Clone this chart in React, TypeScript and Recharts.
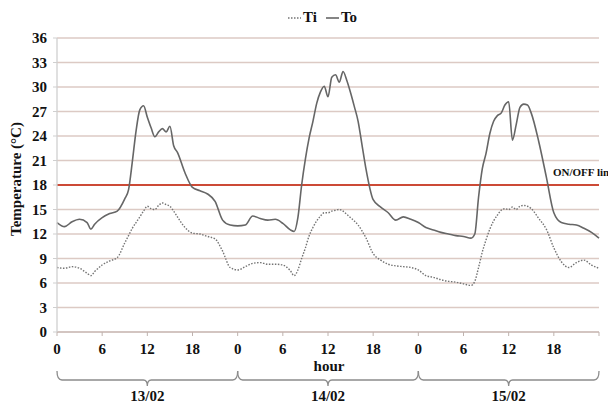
import React from 'react';
import { LineChart, Line, XAxis, YAxis, CartesianGrid, ReferenceLine, Legend } from 'recharts';

// hour since 13/02 00:00
const hours = [
  0, 1, 2, 3, 4, 4.5, 5, 6, 7, 8,
  9, 9.5, 10, 10.5, 11, 11.5, 12, 12.5, 13, 13.5, 14, 14.5, 15, 15.5, 16,
  17, 18, 19, 20, 21, 22, 23, 24, 25, 26, 27, 28, 29, 30, 31, 31.5,
  32, 32.5, 33, 33.5, 34, 34.5, 35, 35.5, 36, 36.5, 37, 37.5, 38, 38.5, 39, 39.5, 40, 40.5, 41,
  42, 43, 44, 45, 46, 47, 48, 49, 50, 51, 52, 53, 54, 55,
  55.5, 56, 56.5, 57, 57.5, 58, 58.5, 59, 59.5, 60, 60.5, 61, 61.5, 62, 62.5, 63,
  64, 65, 66, 67, 68, 69, 70, 71, 72,
];

const toValues = [
  13.4, 12.9, 13.5, 13.8, 13.4, 12.6, 13.2, 14.0, 14.5, 14.8,
  16.3, 17.4, 20.8, 24.6, 27.2, 27.7, 26.3, 25.0, 23.9, 24.5, 24.9, 24.5, 25.2, 22.8, 22.0,
  19.5, 17.7, 17.3, 16.9, 16.0, 13.7, 13.1, 13.0, 13.1, 14.2, 13.9, 13.7, 13.8, 13.3, 12.5, 12.3,
  14.0, 18.0, 21.2, 23.8, 25.8, 28.0, 29.4, 30.1, 28.8, 31.2, 31.5, 30.6, 31.9, 30.8, 29.3, 27.6, 25.8, 23.0, 20.2,
  16.2, 15.3, 14.6, 13.7, 14.1, 13.8, 13.4, 12.8, 12.5, 12.2, 12.0, 11.8, 11.7, 11.5,
  12.0, 16.5, 20.0, 21.9, 24.3, 25.8, 26.5, 26.8, 27.8, 28.2, 23.5, 25.4, 27.5, 27.9, 27.8, 26.8,
  23.3, 19.0, 14.6, 13.4, 13.2, 13.1, 12.7, 12.2, 11.5,
];

const tiValues = [
  7.9, 7.8, 8.0, 7.8, 7.2, 6.9, 7.4, 8.2, 8.7, 9.1,
  10.9, 11.8, 12.7, 13.4, 14.1, 14.8, 15.4, 15.1, 15.0, 15.5, 15.8, 15.6, 15.4, 14.8, 14.1,
  12.8, 12.1, 12.0, 11.7, 11.4, 9.9, 7.9, 7.6, 8.0, 8.4, 8.5, 8.3, 8.3, 8.2, 7.5, 6.9,
  7.6, 9.0, 10.3, 11.8, 12.8, 13.6, 14.2, 14.6, 14.6, 14.8, 14.9, 15.0, 14.8, 14.4, 14.0, 13.6, 13.1, 12.4, 11.6,
  9.6, 8.8, 8.3, 8.1, 8.0, 7.9, 7.6, 6.9, 6.7, 6.4, 6.2, 6.1, 5.9, 5.7,
  6.2, 7.9, 9.8, 11.3, 12.6, 13.6, 14.3, 14.9, 15.1, 15.0, 15.3, 15.0, 15.4, 15.5, 15.4, 15.1,
  13.9, 12.6, 10.3, 8.6, 7.9, 8.5, 8.8, 8.2, 7.8,
];

const yTicks = [0, 3, 6, 9, 12, 15, 18, 21, 24, 27, 30, 33, 36];
const hourTicks = [0, 6, 12, 18, 24, 30, 36, 42, 48, 54, 60, 66, 72];
const dayCenters = [12, 36, 60];
const dayLabels = ['13/02', '14/02', '15/02'];
const onOffValue = 18;
const onOffText = 'ON/OFF line';
const xTitle = 'hour';
const yTitle = 'Temperature (°C)';
const seriesNames = ['Ti', 'To'];

const data = hours.map((h, i) => ({ hour: h, Ti: tiValues[i], To: toValues[i] }));

const FONT = '"Liberation Serif", "Times New Roman", serif';
const TO_COLOR = '#666666';
const TI_COLOR = '#747474';

const DateTick = (props: any) => {
  const { x, y, index, width } = props;
  const axisW = typeof width === 'number' && width > 100 ? width : 542;
  const half = axisW / 6;
  const top = y + 9;
  const yl = y + 18;
  const d = `M ${x - half} ${top} Q ${x - half} ${yl} ${x - half + 5} ${yl} L ${x - 4} ${yl} Q ${x} ${yl} ${x} ${yl + 6} Q ${x} ${yl} ${x + 4} ${yl} L ${x + half - 5} ${yl} Q ${x + half} ${yl} ${x + half} ${top}`;
  return (
    <g>
      <path d={d} fill="none" stroke="#8c8c8c" strokeWidth={1.3} />
      <text x={x} y={yl + 21} textAnchor="middle" fontFamily={FONT} fontWeight="bold" fontSize={15} fill="#111">
        {dayLabels[index]}
      </text>
    </g>
  );
};

const HourLabel = (props: any) => {
  const vb = props.viewBox || { x: 49, y: 324, width: 542 };
  return (
    <text x={vb.x + vb.width / 2 + 1} y={vb.y + 39} textAnchor="middle" fontFamily={FONT} fontWeight="bold" fontSize={15} fill="#111">
      {xTitle}
    </text>
  );
};

const YTitle = (props: any) => {
  const vb = props.viewBox || { x: 9, y: 30, width: 40, height: 294 };
  const cx = vb.x - 1;
  const cy = vb.y + vb.height / 2 - 6;
  return (
    <text x={cx} y={cy} transform={`rotate(-90 ${cx} ${cy})`} textAnchor="middle" dominantBaseline="central" fontFamily={FONT} fontWeight="bold" fontSize={15} fill="#111">
      {yTitle}
    </text>
  );
};

const OnOffLabel = (props: any) => {
  const vb = props.viewBox || { x: 49, y: 177, width: 542 };
  return (
    <text x={vb.x + vb.width - 46} y={vb.y - 9} fontFamily={FONT} fontWeight="bold" fontSize={11} fill="#111">
      {onOffText}
    </text>
  );
};

const LegendContent = () => (
  <div style={{ display: 'flex', alignItems: 'center', height: 15, paddingLeft: 280, fontFamily: FONT, fontWeight: 'bold', fontSize: 15, lineHeight: '15px', color: '#111' }}>
    <svg width={13} height={15} style={{ marginRight: 2 }}>
      <line x1={0} y1={8} x2={13} y2={8} stroke={TI_COLOR} strokeWidth={1.4} strokeDasharray="1.5 1.5" />
    </svg>
    <span>{seriesNames[0]}</span>
    <svg width={13} height={15} style={{ marginLeft: 9, marginRight: 2 }}>
      <line x1={0} y1={8} x2={13} y2={8} stroke={TO_COLOR} strokeWidth={1.6} />
    </svg>
    <span>{seriesNames[1]}</span>
  </div>
);

export default function App() {
  return (
    <div style={{ width: 608, height: 404 }}>
      <LineChart width={608} height={404} data={data} margin={{ top: 2, right: 17, bottom: 10, left: 9 }}>
        <Legend verticalAlign="top" align="left" height={28} content={LegendContent} wrapperStyle={{ left: 0, width: 608, top: 2 }} />
        <CartesianGrid vertical={false} stroke="#dccac4" strokeWidth={1.3} />
        <XAxis
          dataKey="hour"
          type="number"
          domain={[0, 72]}
          ticks={hourTicks}
          interval={0}
          tickFormatter={(v: number) => (v === 72 ? '' : String(v % 24))}
          axisLine={{ stroke: '#cdbfbb', strokeWidth: 1.3 }}
          tickLine={{ stroke: '#bfb2ae' }}
          tickSize={4}
          tickMargin={7}
          height={30}
          tick={{ fill: '#111', fontSize: 15, fontWeight: 'bold', fontFamily: FONT }}
          label={{ content: HourLabel }}
        />
        <XAxis
          xAxisId="day"
          dataKey="hour"
          type="number"
          domain={[0, 72]}
          ticks={dayCenters}
          interval={0}
          axisLine={false}
          tickLine={false}
          tickSize={0}
          tickMargin={0}
          height={40}
          tick={<DateTick />}
        />
        <YAxis
          domain={[0, 36]}
          ticks={yTicks}
          interval={0}
          width={40}
          axisLine={{ stroke: '#cfcfcf', strokeWidth: 1.3 }}
          tickLine={{ stroke: '#cfcfcf' }}
          tickSize={4}
          tickMargin={6}
          tick={{ fill: '#111', fontSize: 15, fontWeight: 'bold', fontFamily: FONT }}
          label={{ content: YTitle }}
        />
        <ReferenceLine y={onOffValue} stroke="#cc4a36" strokeWidth={2.2} label={{ content: OnOffLabel }} ifOverflow="visible" />
        <Line type="monotone" dataKey="Ti" stroke={TI_COLOR} strokeWidth={1.4} strokeDasharray="1.5 1.5" dot={false} isAnimationActive={false} />
        <Line type="monotone" dataKey="To" stroke={TO_COLOR} strokeWidth={1.6} dot={false} isAnimationActive={false} />
      </LineChart>
    </div>
  );
}
